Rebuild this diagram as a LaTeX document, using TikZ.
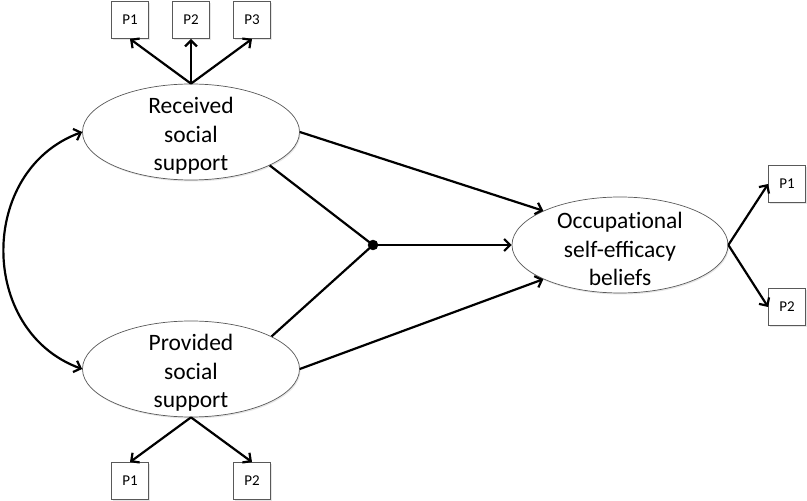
\documentclass[tikz,border=0pt]{standalone}
\usepackage{fontspec}
\setmainfont{Carlito}
\usetikzlibrary{arrows.meta,shapes.geometric,shadows}

\tikzset{
  latent/.style={ellipse, draw=black!65, line width=0.7pt, fill=white, inner sep=0pt,
    drop shadow={opacity=0.2, shadow xshift=1pt, shadow yshift=-1.5pt}},
  latenttext/.style={align=center, inner sep=0pt, yshift=-4pt, font=\fontsize{23.5}{28.5}\selectfont},
  item/.style={rectangle, draw=black!65, line width=0.8pt, fill=white,
    minimum width=37pt, minimum height=37pt, inner sep=0pt, font=\fontsize{15}{17}\selectfont,
    drop shadow={opacity=0.2, shadow xshift=1pt, shadow yshift=-1.5pt}},
  path/.style={line width=2.2pt, -{Straight Barb[length=6pt,width=12pt]}},
  link/.style={line width=2.2pt}
}

\begin{document}
\begin{tikzpicture}[x=1pt,y=1pt]
    \useasboundingbox (0,0) rectangle (807,501);
    % latent variables
    \node[latent, minimum width=217pt, minimum height=96pt] (rec) at (191,369) {};
    \node[latent, minimum width=217pt, minimum height=96pt] (prov) at (191,132) {};
    \node[latent, minimum width=216pt, minimum height=96pt] (occ) at (620,256) {};
    \node[latenttext] (rectext) at (rec) {Received\\social\\support};
    \node[latenttext] (provtext) at (prov) {Provided\\social\\support};
    \node[latenttext] (occtext) at (occ) {Occupat\kern0pt ional\\self-efficacy\\beliefs};
    \filldraw[black] (373,256) circle (5pt) coordinate (dot);
    % indicators
    \node[item] (rp1) at (130,481) {P1};
    \node[item] (rp2) at (191,481) {P2};
    \node[item] (rp3) at (252,481) {P3};
    \node[item] (pp1) at (130,20) {P1};
    \node[item] (pp2) at (252,20) {P2};
    \node[item] (op1) at (787,317) {P1};
    \node[item] (op2) at (787,194) {P2};
    \draw[path] (rec.north) -- (rp1.south);
    \draw[path] (rec.north) -- (rp2.south);
    \draw[path] (rec.north) -- (rp3.south);
    \draw[path] (prov.south) -- (pp1.north);
    \draw[path] (prov.south) -- (pp2.north);
    \draw[path] (occ.east) -- (op1.west);
    \draw[path] (occ.east) -- (op2.west);
    % structural paths
    \draw[path] (rec.east) -- (occ.north west);
    \draw[path] (prov.east) -- (occ.south west);
    \draw[link] (rec.-23) -- (dot);
    \draw[link] (prov.22) -- (dot);
    \draw[path] (dot) -- (occ.west);
    \draw[path, {Straight Barb[length=6pt,width=12pt]}-{Straight Barb[length=6pt,width=12pt]}]
      (rec.west) to[out=200, in=160, looseness=1.2] (prov.west);
\end{tikzpicture}
\end{document}
